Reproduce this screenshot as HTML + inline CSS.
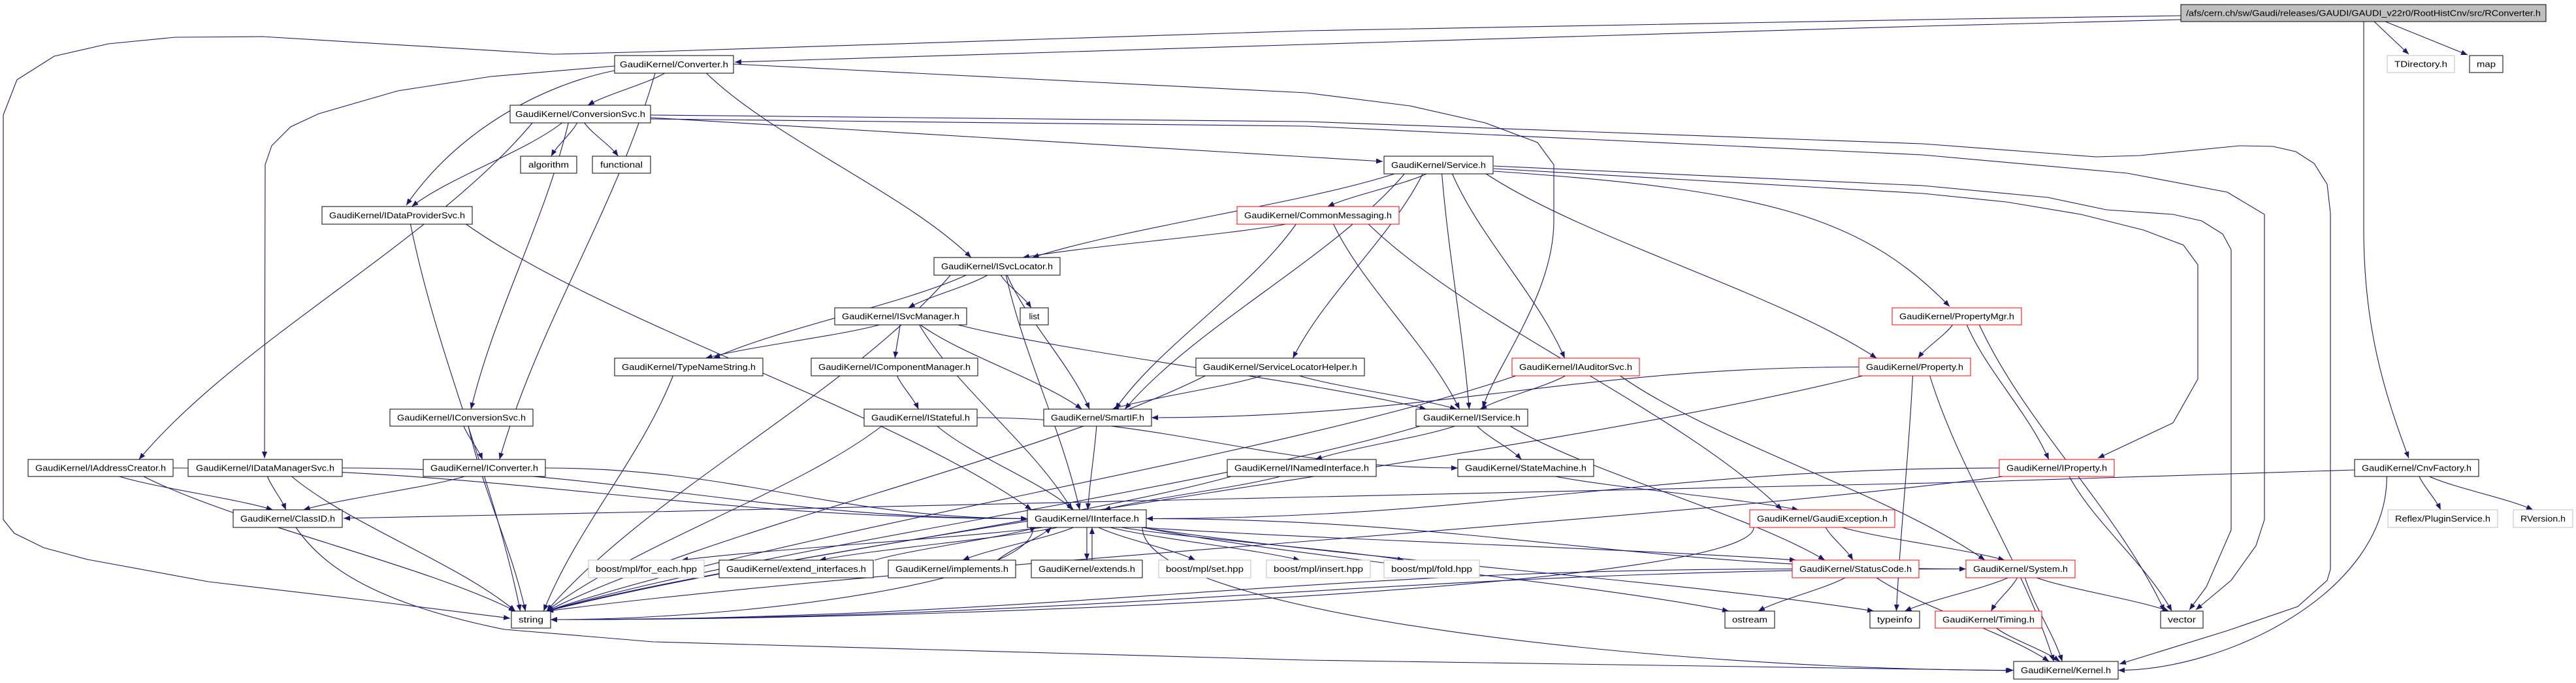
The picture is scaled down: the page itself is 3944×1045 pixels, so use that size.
<!DOCTYPE html>
<html><head><meta charset="utf-8"><style>
html,body{margin:0;padding:0;background:#fff;}
svg{display:block;}
text{font-family:"Liberation Sans",sans-serif;font-size:13px;}
</style></head><body>
<svg id="g" xmlns="http://www.w3.org/2000/svg" width="3944" height="1045" viewBox="0 0 3944 1045">
<defs><marker id="a" markerUnits="userSpaceOnUse" markerWidth="11" markerHeight="8" refX="10" refY="4" orient="auto"><path d="M0,0 L10,4 L0,8 z" fill="#191970"/></marker></defs>
<g id="edges" fill="none" stroke="#191970" stroke-width="1.1">
<path marker-end="url(#a)" d="M3339,24 L3000,29 L2000,47 L1000,79 L848,83 L402,56 L268,57 L166,67 L83,86 L26,122 L5,176 L5,795 L22,816 L67,838 L134,856 L319,890 L574,920 L781,946"/>
<path marker-end="url(#a)" d="M3339,30 L2944,40 L2000,68 L1125,95"/>
<path marker-end="url(#a)" d="M1123,98 L2000,142 L2159,162 L2274,188 L2354,218 L2379,252 L2379,338 C2379,450 2290,560 2270,624"/>
<path marker-end="url(#a)" d="M996,180 L2000,240 L2117,247"/>
<path marker-end="url(#a)" d="M996,176 L2000,186 L2944,220 L3209,240 L3276,238 L3429,223 L3480,224 L3515,232 L3543,250 L3563,282 L3568,326 L3568,871 L3563,888 L3518,928 L3410,965 L3245,1016"/>
<path marker-end="url(#a)" d="M996,182 L2000,193 L2944,237 L3257,265 L3410,294 L3467,328 L3467,795 L3454,835 L3416,888 L3362,933"/>
<path marker-end="url(#a)" d="M2287,254 L2944,284 L3135,302 L3225,321 L3327,328 L3371,338 L3403,358 L3416,382 L3416,811 L3378,898 L3352,933"/>
<path marker-end="url(#a)" d="M2287,258 L2944,296 L3072,309 L3186,328 L3282,352 L3343,375 L3365,405 L3365,580 L3327,647 L3212,701"/>
<path marker-end="url(#a)" d="M2287,262 C2700,290 2850,330 2985,469"/>
<path marker-end="url(#a)" d="M3605,719 L3000,738 L1000,783 L526,793"/>
<path marker-end="url(#a)" d="M453,807 C490,860 560,920 772,963 L1000,982 L2000,1010 L3081,1026"/>
<path marker-end="url(#a)" d="M941,101 L752,117 L609,139 L488,174 L445,194 L416,223 L406,252 L405,701"/>
<path marker-end="url(#a)" d="M941,108 C830,130 700,200 622,314"/>
<path marker-end="url(#a)" d="M3619,33 L3619,350 C3619,500 3650,600 3688,701"/>
<path marker-end="url(#a)" d="M3635,33 L3688,83"/>
<path marker-end="url(#a)" d="M3652,33 L3778,84"/>
</g>
<g id="nodes">
<rect x="3339" y="7" width="559" height="26" fill="#bfbfbf" stroke="#000"/><text x="3618.5" y="24.5" text-anchor="middle" textLength="543" lengthAdjust="spacingAndGlyphs">/afs/cern.ch/sw/Gaudi/releases/GAUDI/GAUDI_v22r0/RootHistCnv/src/RConverter.h</text>
<rect x="941" y="85" width="182" height="27" fill="#fff" stroke="#000"/><text x="1032" y="103" text-anchor="middle" textLength="166" lengthAdjust="spacingAndGlyphs">GaudiKernel/Converter.h</text>
<rect x="781" y="161" width="215" height="27" fill="#fff" stroke="#000"/><text x="888.5" y="179" text-anchor="middle" textLength="199" lengthAdjust="spacingAndGlyphs">GaudiKernel/ConversionSvc.h</text>
<rect x="797" y="239" width="86" height="26" fill="#fff" stroke="#000"/><text x="840" y="256.5" text-anchor="middle" textLength="62" lengthAdjust="spacingAndGlyphs">algorithm</text>
<rect x="907" y="239" width="89" height="26" fill="#fff" stroke="#000"/><text x="951.5" y="256.5" text-anchor="middle" textLength="65" lengthAdjust="spacingAndGlyphs">functional</text>
<rect x="493" y="316" width="230" height="27" fill="#fff" stroke="#000"/><text x="608" y="334" text-anchor="middle" textLength="208" lengthAdjust="spacingAndGlyphs">GaudiKernel/IDataProviderSvc.h</text>
<rect x="2119" y="239" width="167" height="27" fill="#fff" stroke="#000"/><text x="2202.5" y="257" text-anchor="middle" textLength="145" lengthAdjust="spacingAndGlyphs">GaudiKernel/Service.h</text>
<rect x="1894" y="316" width="248" height="27" fill="#fff" stroke="#f00"/><text x="2018" y="334" text-anchor="middle" textLength="226" lengthAdjust="spacingAndGlyphs">GaudiKernel/CommonMessaging.h</text>
<rect x="1430" y="394" width="193" height="27" fill="#fff" stroke="#000"/><text x="1526.5" y="412" text-anchor="middle" textLength="171" lengthAdjust="spacingAndGlyphs">GaudiKernel/ISvcLocator.h</text>
<rect x="1278" y="471" width="202" height="26" fill="#fff" stroke="#000"/><text x="1379" y="488.5" text-anchor="middle" textLength="180" lengthAdjust="spacingAndGlyphs">GaudiKernel/ISvcManager.h</text>
<rect x="1562" y="471" width="43" height="26" fill="#fff" stroke="#000"/><text x="1583.5" y="488.5" text-anchor="middle">list</text>
<rect x="2897" y="471" width="198" height="26" fill="#fff" stroke="#f00"/><text x="2996" y="488.5" text-anchor="middle" textLength="176" lengthAdjust="spacingAndGlyphs">GaudiKernel/PropertyMgr.h</text>
<rect x="941" y="548" width="227" height="27" fill="#fff" stroke="#000"/><text x="1054.5" y="566" text-anchor="middle" textLength="205" lengthAdjust="spacingAndGlyphs">GaudiKernel/TypeNameString.h</text>
<rect x="1242" y="548" width="255" height="27" fill="#fff" stroke="#000"/><text x="1369.5" y="566" text-anchor="middle" textLength="233" lengthAdjust="spacingAndGlyphs">GaudiKernel/IComponentManager.h</text>
<rect x="1831" y="548" width="258" height="27" fill="#fff" stroke="#000"/><text x="1960" y="566" text-anchor="middle" textLength="236" lengthAdjust="spacingAndGlyphs">GaudiKernel/ServiceLocatorHelper.h</text>
<rect x="2315" y="548" width="195" height="27" fill="#fff" stroke="#f00"/><text x="2412.5" y="566" text-anchor="middle" textLength="173" lengthAdjust="spacingAndGlyphs">GaudiKernel/IAuditorSvc.h</text>
<rect x="2846" y="548" width="171" height="27" fill="#fff" stroke="#f00"/><text x="2931.5" y="566" text-anchor="middle" textLength="149" lengthAdjust="spacingAndGlyphs">GaudiKernel/Property.h</text>
<rect x="597" y="626" width="219" height="26" fill="#fff" stroke="#000"/><text x="706.5" y="643.5" text-anchor="middle" textLength="197" lengthAdjust="spacingAndGlyphs">GaudiKernel/IConversionSvc.h</text>
<rect x="1323" y="626" width="173" height="26" fill="#fff" stroke="#000"/><text x="1409.5" y="643.5" text-anchor="middle" textLength="151" lengthAdjust="spacingAndGlyphs">GaudiKernel/IStateful.h</text>
<rect x="1598" y="626" width="165" height="26" fill="#fff" stroke="#000"/><text x="1680.5" y="643.5" text-anchor="middle" textLength="143" lengthAdjust="spacingAndGlyphs">GaudiKernel/SmartIF.h</text>
<rect x="2168" y="626" width="171" height="26" fill="#fff" stroke="#000"/><text x="2253.5" y="643.5" text-anchor="middle" textLength="149" lengthAdjust="spacingAndGlyphs">GaudiKernel/IService.h</text>
<rect x="43" y="703" width="222" height="26" fill="#fff" stroke="#000"/><text x="154" y="720.5" text-anchor="middle" textLength="200" lengthAdjust="spacingAndGlyphs">GaudiKernel/IAddressCreator.h</text>
<rect x="288" y="703" width="236" height="26" fill="#fff" stroke="#000"/><text x="406" y="720.5" text-anchor="middle" textLength="212" lengthAdjust="spacingAndGlyphs">GaudiKernel/IDataManagerSvc.h</text>
<rect x="648" y="703" width="187" height="26" fill="#fff" stroke="#000"/><text x="741.5" y="720.5" text-anchor="middle" textLength="165" lengthAdjust="spacingAndGlyphs">GaudiKernel/IConverter.h</text>
<rect x="1879" y="703" width="228" height="26" fill="#fff" stroke="#000"/><text x="1993" y="720.5" text-anchor="middle" textLength="206" lengthAdjust="spacingAndGlyphs">GaudiKernel/INamedInterface.h</text>
<rect x="2232" y="703" width="208" height="26" fill="#fff" stroke="#000"/><text x="2336" y="720.5" text-anchor="middle" textLength="186" lengthAdjust="spacingAndGlyphs">GaudiKernel/StateMachine.h</text>
<rect x="3061" y="703" width="176" height="26" fill="#fff" stroke="#f00"/><text x="3149" y="720.5" text-anchor="middle" textLength="154" lengthAdjust="spacingAndGlyphs">GaudiKernel/IProperty.h</text>
<rect x="3605" y="703" width="190" height="26" fill="#fff" stroke="#000"/><text x="3700" y="720.5" text-anchor="middle" textLength="168" lengthAdjust="spacingAndGlyphs">GaudiKernel/CnvFactory.h</text>
<rect x="357" y="780" width="167" height="27" fill="#fff" stroke="#000"/><text x="440.5" y="798" text-anchor="middle" textLength="145" lengthAdjust="spacingAndGlyphs">GaudiKernel/ClassID.h</text>
<rect x="1573" y="780" width="182" height="27" fill="#fff" stroke="#000"/><text x="1664" y="798" text-anchor="middle" textLength="160" lengthAdjust="spacingAndGlyphs">GaudiKernel/IInterface.h</text>
<rect x="2679" y="780" width="222" height="27" fill="#fff" stroke="#f00"/><text x="2790" y="798" text-anchor="middle" textLength="200" lengthAdjust="spacingAndGlyphs">GaudiKernel/GaudiException.h</text>
<rect x="3656" y="780" width="168" height="27" fill="#fff" stroke="#bfbfbf"/><text x="3740" y="798" text-anchor="middle" textLength="146" lengthAdjust="spacingAndGlyphs">Reflex/PluginService.h</text>
<rect x="3848" y="780" width="91" height="27" fill="#fff" stroke="#bfbfbf"/><text x="3893.5" y="798" text-anchor="middle" textLength="69" lengthAdjust="spacingAndGlyphs">RVersion.h</text>
<rect x="901" y="857" width="177" height="27" fill="#fff" stroke="#bfbfbf"/><text x="989.5" y="875" text-anchor="middle" textLength="155" lengthAdjust="spacingAndGlyphs">boost/mpl/for_each.hpp</text>
<rect x="1101" y="857" width="236" height="27" fill="#fff" stroke="#000"/><text x="1219" y="875" text-anchor="middle" textLength="214" lengthAdjust="spacingAndGlyphs">GaudiKernel/extend_interfaces.h</text>
<rect x="1360" y="857" width="195" height="27" fill="#fff" stroke="#000"/><text x="1457.5" y="875" text-anchor="middle" textLength="173" lengthAdjust="spacingAndGlyphs">GaudiKernel/implements.h</text>
<rect x="1579" y="857" width="170" height="27" fill="#fff" stroke="#000"/><text x="1664" y="875" text-anchor="middle" textLength="148" lengthAdjust="spacingAndGlyphs">GaudiKernel/extends.h</text>
<rect x="1774" y="857" width="141" height="27" fill="#fff" stroke="#bfbfbf"/><text x="1844.5" y="875" text-anchor="middle" textLength="119" lengthAdjust="spacingAndGlyphs">boost/mpl/set.hpp</text>
<rect x="1939" y="857" width="159" height="27" fill="#fff" stroke="#bfbfbf"/><text x="2018.5" y="875" text-anchor="middle" textLength="137" lengthAdjust="spacingAndGlyphs">boost/mpl/insert.hpp</text>
<rect x="2119" y="857" width="146" height="27" fill="#fff" stroke="#bfbfbf"/><text x="2192" y="875" text-anchor="middle" textLength="124" lengthAdjust="spacingAndGlyphs">boost/mpl/fold.hpp</text>
<rect x="2744" y="857" width="194" height="27" fill="#fff" stroke="#f00"/><text x="2841" y="875" text-anchor="middle" textLength="172" lengthAdjust="spacingAndGlyphs">GaudiKernel/StatusCode.h</text>
<rect x="3010" y="857" width="167" height="27" fill="#fff" stroke="#f00"/><text x="3093.5" y="875" text-anchor="middle" textLength="145" lengthAdjust="spacingAndGlyphs">GaudiKernel/System.h</text>
<rect x="783" y="935" width="60" height="26" fill="#fff" stroke="#000"/><text x="813" y="952.5" text-anchor="middle" textLength="38" lengthAdjust="spacingAndGlyphs">string</text>
<rect x="2641" y="935" width="76" height="26" fill="#fff" stroke="#000"/><text x="2679" y="952.5" text-anchor="middle" textLength="54" lengthAdjust="spacingAndGlyphs">ostream</text>
<rect x="2863" y="935" width="76" height="26" fill="#fff" stroke="#000"/><text x="2901" y="952.5" text-anchor="middle" textLength="54" lengthAdjust="spacingAndGlyphs">typeinfo</text>
<rect x="2963" y="935" width="163" height="26" fill="#fff" stroke="#f00"/><text x="3044.5" y="952.5" text-anchor="middle" textLength="141" lengthAdjust="spacingAndGlyphs">GaudiKernel/Timing.h</text>
<rect x="3308" y="935" width="65" height="26" fill="#fff" stroke="#000"/><text x="3340.5" y="952.5" text-anchor="middle" textLength="43" lengthAdjust="spacingAndGlyphs">vector</text>
<rect x="3083" y="1012" width="160" height="27" fill="#fff" stroke="#000"/><text x="3163" y="1030" text-anchor="middle" textLength="138" lengthAdjust="spacingAndGlyphs">GaudiKernel/Kernel.h</text>
<rect x="3655" y="85" width="103" height="26" fill="#fff" stroke="#bfbfbf"/><text x="3706.5" y="102.5" text-anchor="middle" textLength="81" lengthAdjust="spacingAndGlyphs">TDirectory.h</text>
<rect x="3781" y="85" width="51" height="26" fill="#fff" stroke="#000"/><text x="3806.5" y="102.5" text-anchor="middle" textLength="29" lengthAdjust="spacingAndGlyphs">map</text>
</g>
</svg>
<script>
(function(){
var N={Conv:[941,85,182,27],CSvc:[781,161,215,27],alg:[797,239,86,26],func:[907,239,89,26],IDP:[493,316,230,27],Svc:[2119,239,167,27],CM:[1894,316,248,27],ISL:[1430,394,193,27],ISM:[1278,471,202,26],list:[1562,471,43,26],PMgr:[2897,471,198,26],TNS:[941,548,227,27],ICM:[1242,548,255,27],SLH:[1831,548,258,27],IAud:[2315,548,195,27],Prop:[2846,548,171,27],ICnvSvc:[597,626,219,26],IStateful:[1323,626,173,26],SmartIF:[1598,626,165,26],IService:[2168,626,171,26],IAddr:[43,703,222,26],IDMS:[288,703,236,26],IConv:[648,703,187,26],INamed:[1879,703,228,26],StateM:[2232,703,208,26],IProp:[3061,703,176,26],CnvF:[3605,703,190,26],ClassID:[357,780,167,27],IInt:[1573,780,182,27],GExc:[2679,780,222,27],Reflex:[3656,780,168,27],RVer:[3848,780,91,27],foreach:[901,857,177,27],extI:[1101,857,236,27],impl:[1360,857,195,27],extends:[1579,857,170,27],set:[1774,857,141,27],insert:[1939,857,159,27],fold:[2119,857,146,27],SC:[2744,857,194,27],System:[3010,857,167,27],string:[783,935,60,26],ostream:[2641,935,76,26],typeinfo:[2863,935,76,26],Timing:[2963,935,163,26],vector:[3308,935,65,26],Kernel:[3083,1012,160,27]};
var E="Conv>CSvc,Conv>ISL,Conv>IConv,CSvc>alg,CSvc>func,CSvc>IDP,CSvc>IAddr,CSvc>ICnvSvc,IDP>string,IDP>IInt,Svc>CM,Svc>ISL,Svc>SmartIF,Svc>IService,Svc>SLH,Svc>IAud,Svc>Prop,CM>ISL,CM>SmartIF,CM>IService,CM>GExc,ISL>ISM,ISL>list,ISL>TNS,ISL>SmartIF,ISL>IInt,ISL>string,ISM>TNS,ISM>ICM,ISM>SmartIF,ISM>IService,ISM>IInt,ICM>IStateful,SLH>SmartIF,SLH>IService,SLH>string,IAud>IService,IAud>string,IAud>System,PMgr>Prop,PMgr>IProp,PMgr>vector,Prop>SmartIF>r,Prop>typeinfo,Prop>string,Prop>Kernel,TNS>string,IStateful>IInt,IStateful>string,IStateful>StateM>l,SmartIF>IInt,IService>INamed,IService>StateM,IService>string,IService>SC,ICnvSvc>IConv,ICnvSvc>string,IAddr>ClassID,IAddr>string,IAddr>IInt>l,IDMS>ClassID,IDMS>string,IDMS>IInt>l,IConv>ClassID,IConv>IInt>l,INamed>IInt,INamed>string,StateM>GExc,IProp>IInt>r,IProp>string,IProp>vector,CnvF>Reflex,CnvF>RVer,CnvF>Kernel>r,IInt>foreach,IInt>extI,IInt>impl,IInt>extends,IInt>set,IInt>insert,IInt>fold,IInt>SC,IInt>System>l,IInt>string>r,IInt>ostream,IInt>typeinfo,IInt>Kernel>l,extI>IInt>u,impl>IInt>u,extends>IInt>u,GExc>SC,GExc>System,GExc>string>r,SC>ostream,SC>Kernel,SC>string>r,System>string>r,System>typeinfo,System>Timing,System>Kernel,System>vector,Timing>Kernel".split(",");
function cl(v,m){return Math.max(-m,Math.min(m,v));}
var g=document.getElementById("edges"),ns="http://www.w3.org/2000/svg";
E.forEach(function(s){var p=s.split(">"),a=N[p[0]],b=N[p[1]],m=p[2]||"t";
var acx=a[0]+a[2]/2,bcx=b[0]+b[2]/2,sx,sy,ex,ey,d;
if(m=="t"||m=="u"){
 if(m=="t"){sx=acx+cl((bcx-acx)*0.1,a[2]/2-6);sy=a[1]+a[3];ex=bcx+cl((acx-bcx)*0.08,b[2]/2-6);ey=b[1];}
 else{sx=acx+cl((bcx-acx)*0.3,a[2]/2-6)+8;sy=a[1];ex=bcx+cl((acx-bcx)*0.3,b[2]/2-6)+8;ey=b[1]+b[3];}
 var dx=ex-sx,dy=ey-sy;
 d="M"+sx+","+sy+" C"+(sx+dx*0.25)+","+(sy+dy*0.35)+" "+(ex-dx*0.25)+","+(ey-dy*0.35)+" "+ex+","+ey;
}else{
 ex=(m=="r")?b[0]+b[2]:b[0];ey=b[1]+b[3]/2;
 var bel=b[1]-(a[1]+a[3]);
 if(bel>100){sx=acx+cl((ex-acx)*0.1,a[2]/2-6);sy=a[1]+a[3];
  d="M"+sx+","+sy+" C"+sx+","+(sy+(ey-sy)*0.6)+" "+(ex+(sx-ex)*0.4)+","+ey+" "+ex+","+ey;}
 else{sx=(ex<acx)?a[0]:a[0]+a[2];sy=a[1]+a[3]/2;
  d="M"+sx+","+sy+" C"+(sx+(ex-sx)*0.4)+","+sy+" "+(ex+(sx-ex)*0.4)+","+ey+" "+ex+","+ey;}
}
var e=document.createElementNS(ns,"path");e.setAttribute("d",d);e.setAttribute("marker-end","url(#a)");g.appendChild(e);});
})();
</script>
</body></html>
